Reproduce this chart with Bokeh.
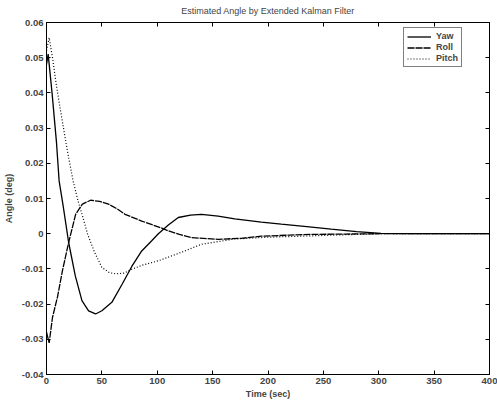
from bokeh.plotting import figure
from bokeh.models import (LinearAxis, FixedTicker, Legend, LegendItem, Range1d,
                          CustomJSTickFormatter)
from bokeh.embed import file_html
from bokeh.resources import INLINE

TITLE = "Estimated Angle by Extended Kalman Filter"
X_LABEL = "Time (sec)"
Y_LABEL = "Angle (deg)"
X_TICKS = [0, 50, 100, 150, 200, 250, 300, 350, 400]
Y_TICKS = [-0.04, -0.03, -0.02, -0.01, 0, 0.01, 0.02, 0.03, 0.04, 0.05, 0.06]

yaw_t = [0, 1.5, 5, 9, 11.4, 15, 20, 26, 32, 38, 44.3, 50, 59, 68, 77, 86, 95,
         101, 110, 119, 130, 140, 155, 170, 194, 212, 235, 257, 280, 302, 330, 360, 400]
yaw_v = [0.048, 0.051, 0.040, 0.026, 0.015, 0.008, -0.0025, -0.012, -0.019, -0.0219,
         -0.0228, -0.0219, -0.0195, -0.0145, -0.0093, -0.0049, -0.002, 0.0, 0.0025,
         0.0046, 0.0053, 0.0055, 0.005, 0.0042, 0.0033, 0.0027, 0.002, 0.0013, 0.0006,
         0.0001, 0.0, 0.0, 0.0]

roll_t = [0, 2.4, 5.4, 9.9, 14.4, 20, 26.3, 32.4, 39.8, 48, 56, 64, 71, 86, 103, 110,
          120, 131, 155, 176, 194, 220, 240, 270, 302, 350, 400]
roll_v = [-0.028, -0.031, -0.0238, -0.018, -0.0105, -0.0025, 0.0055, 0.0084, 0.0095,
          0.0092, 0.0084, 0.007, 0.0055, 0.0036, 0.0017, 0.0008, -0.0002, -0.0011,
          -0.0016, -0.0013, -0.0007, -0.0004, -0.0002, -0.0001, 0.0, 0.0, 0.0]

pitch_t = [0, 2.4, 5.4, 9, 12.9, 18.9, 24, 28.5, 33, 37, 43, 50, 57, 63, 70, 77, 86,
           95, 101, 120, 140, 170, 200, 250, 300, 350, 400]
pitch_v = [0.052, 0.0557, 0.050, 0.042, 0.0345, 0.0235, 0.015, 0.0093, 0.0045, 0.0,
           -0.005, -0.0096, -0.0111, -0.0114, -0.0112, -0.0101, -0.009, -0.0082,
           -0.0077, -0.0055, -0.003, -0.0015, -0.001, -0.0005, 0.0, 0.0, 0.0]

FONT = "Liberation Sans"

p = figure(width=497, height=405, x_range=Range1d(0, 400), y_range=Range1d(-0.04, 0.06),
           output_backend="svg", toolbar_location=None,
           x_axis_label=X_LABEL, y_axis_label=Y_LABEL,
           min_border_left=44, min_border_right=8, min_border_top=21, min_border_bottom=31)

p.title.text = TITLE
p.title.text_font = FONT
p.title.text_font_size = "9px"
p.title.text_font_style = "normal"
p.title.align = "center"
p.title.vertical_align = "top"
p.title.standoff = 10
p.title.offset = 0

p.xgrid.visible = False
p.ygrid.visible = False
p.outline_line_color = "black"
p.outline_line_width = 1
p.background_fill_color = "white"
p.border_fill_color = "white"

ytick_fmt = CustomJSTickFormatter(code="return tick == 0 ? '0' : tick.toFixed(2);")
blank_fmt = CustomJSTickFormatter(code="return '';")

for ax in p.xaxis:
    ax.ticker = FixedTicker(ticks=X_TICKS)
for ax in p.yaxis:
    ax.ticker = FixedTicker(ticks=Y_TICKS)
    ax.formatter = ytick_fmt

for ax in list(p.xaxis) + list(p.yaxis):
    ax.major_tick_in = 4
    ax.major_tick_out = 0
    ax.minor_tick_line_color = None
    ax.major_label_text_font = FONT
    ax.major_label_text_font_size = "9.5px"
    ax.major_label_text_font_style = "bold"
    ax.major_label_standoff = 3
    ax.axis_label_text_font = FONT
    ax.axis_label_text_font_size = "9px"
    ax.axis_label_text_font_style = "bold"
    ax.axis_label_standoff = 2
    ax.axis_line_color = "black"
    ax.major_tick_line_color = "black"
p.yaxis[0].axis_label_standoff = 5

top = LinearAxis(ticker=FixedTicker(ticks=X_TICKS), formatter=blank_fmt,
                 major_tick_in=4, major_tick_out=0, minor_tick_line_color=None,
                 major_label_standoff=8, major_label_text_font_size="1px")
right = LinearAxis(ticker=FixedTicker(ticks=Y_TICKS), formatter=blank_fmt,
                   major_tick_in=4, major_tick_out=0, minor_tick_line_color=None,
                   major_label_standoff=0, major_label_text_font_size="1px")
p.add_layout(top, "above")
p.add_layout(right, "right")

r_yaw = p.line(yaw_t, yaw_v, line_color="black", line_width=1.3)
r_roll = p.line(roll_t, roll_v, line_color="black", line_width=1.3, line_dash="7 1")
r_pitch = p.line(pitch_t, pitch_v, line_color="black", line_width=1.2, line_dash="1 2")

legend = Legend(items=[LegendItem(label="Yaw", renderers=[r_yaw]),
                       LegendItem(label="Roll", renderers=[r_roll]),
                       LegendItem(label="Pitch", renderers=[r_pitch])],
                location=(357, 307))
legend.label_text_font = FONT
legend.label_text_font_size = "9px"
legend.label_text_font_style = "bold"
legend.label_height = 9
legend.glyph_height = 9
legend.glyph_width = 24
legend.label_standoff = 5
legend.spacing = 1
legend.padding = 3
legend.margin = 0
legend.border_line_color = "black"
legend.border_line_width = 1
legend.background_fill_color = "white"
legend.background_fill_alpha = 1
p.add_layout(legend)

open("out.html", "w").write(file_html(p, INLINE))
